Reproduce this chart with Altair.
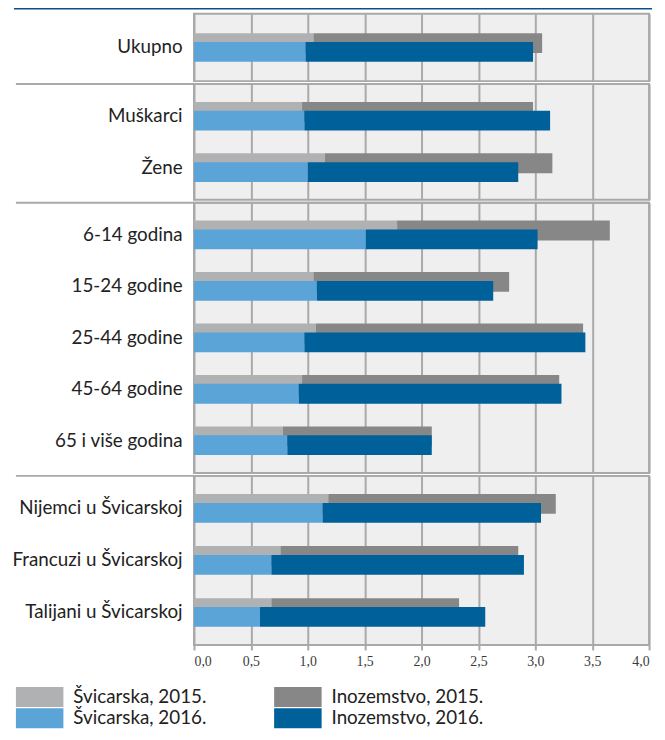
import altair as alt
import pandas as pd

categories = ["Ukupno", "Muškarci", "Žene", "6-14 godina", "15-24 godine",
              "25-44 godine", "45-64 godine", "65 i više godina",
              "Nijemci u Švicarskoj", "Francuzi u Švicarskoj", "Talijani u Švicarskoj"]
group_ids = [0, 1, 1, 2, 2, 2, 2, 2, 3, 3, 3]

ch_2015 = [1.05, 0.95, 1.15, 1.785, 1.05, 1.07, 0.95, 0.78, 1.18, 0.76, 0.68]
ino_2015 = [2.01, 2.03, 2.00, 1.87, 1.72, 2.35, 2.26, 1.31, 2.00, 2.09, 1.65]
ch_2016 = [0.98, 0.97, 1.00, 1.51, 1.08, 0.97, 0.92, 0.82, 1.13, 0.68, 0.58]
ino_2016 = [2.00, 2.16, 1.85, 1.51, 1.55, 2.47, 2.31, 1.27, 1.92, 2.22, 1.98]

series_names = ["Švicarska, 2015.", "Inozemstvo, 2015.", "Švicarska, 2016.", "Inozemstvo, 2016."]
series_colors = ["#b0b1b3", "#878787", "#5ba4d8", "#00619a"]
legend_col = [0, 1, 0, 1]
legend_row = [0, 0, 1, 1]
x_ticks = [0.0, 0.5, 1.0, 1.5, 2.0, 2.5, 3.0, 3.5, 4.0]

panel_heights = [68, 117, 273, 171]

rows = []
for i, c in enumerate(categories):
    for s_idx, (vals, year, part) in enumerate([(ch_2015, 2015, 0), (ino_2015, 2015, 1),
                                                 (ch_2016, 2016, 0), (ino_2016, 2016, 1)]):
        rows.append({"category": c, "group": group_ids[i], "series": series_names[s_idx],
                     "year": year, "part": part, "value": vals[i]})
df = pd.DataFrame(rows)
legend_df = pd.DataFrame({"series": series_names, "col": legend_col, "row": legend_row})

LABEL_FONT = "Lato"
GRID = "#a9a9a9"
TEXT = "#222222"

color = alt.Color("series:N", scale=alt.Scale(domain=series_names, range=series_colors),
                  legend=None)
xscale = alt.Scale(domain=[0, 4], nice=False)


def panel(gid, height, first=False, last=False):
    cats = [c for c, g in zip(categories, group_ids) if g == gid]
    d = df[df["group"] == gid]
    y = alt.Y("category:N", sort=cats,
              scale=alt.Scale(paddingOuter=0.125, paddingInner=0),
              axis=alt.Axis(title=None, domain=False, ticks=False, labelFont=LABEL_FONT,
                            labelFontSize=19, labelColor=TEXT, labelPadding=12,
                            labelLimit=300))
    if last:
        x_axis = alt.Axis(title=None, values=x_ticks, grid=True, gridColor=GRID, gridWidth=2,
                          domain=False, ticks=True, tickColor=GRID, tickWidth=2, tickSize=5,
                          labelFont="Liberation Sans Narrow", labelFontSize=14,
                          labelColor="#3a3a3a", labelPadding=5,
                          labelExpr="replace(format(datum.value, '.1f'), '.', ',')")
    else:
        x_axis = alt.Axis(title=None, values=x_ticks, grid=True, gridColor=GRID, gridWidth=2,
                          domain=False, ticks=False, labels=False)
    x = alt.X("value:Q", stack="zero", scale=xscale, axis=x_axis)
    base = alt.Chart(d)
    b15 = base.transform_filter("datum.year == 2015").mark_bar(height=20, yOffset=-4.5).encode(
        x=x, y=y, color=color, order=alt.Order("part:Q"))
    b16 = base.transform_filter("datum.year == 2016").mark_bar(height=20, yOffset=4.5).encode(
        x=x, y=y, color=color, order=alt.Order("part:Q"))
    layers = [b15, b16]
    one = alt.Data(values=[{"k": 1}])
    if first:
        layers.append(alt.Chart(one).mark_rule(color="#0b4f8a", strokeWidth=3).encode(
            x=alt.value(-182), x2=alt.value(463), y=alt.value(-6)))
    else:
        layers.append(alt.Chart(one).mark_rule(color=GRID, strokeWidth=2).encode(
            x=alt.value(-180), x2=alt.value(460), y=alt.value(0)))
    ch = alt.layer(*layers).properties(width=460, height=height)
    if last:
        lx = alt.X("col:O", scale=alt.Scale(type="point", domain=[0, 1], range=[-156, 105],
                                            padding=0), axis=None)
        ly = alt.Y("row:O", scale=alt.Scale(type="point", domain=[0, 1], range=[223.5, 245],
                                            padding=0), axis=None)
        lbase = alt.Chart(legend_df)
        sw = lbase.mark_point(shape="M-1,-0.4167H1V0.4167H-1Z", size=2304, filled=True,
                              opacity=1, strokeWidth=0).encode(x=lx, y=ly, color=color)
        tx = lbase.mark_text(align="left", baseline="middle", dx=34, font=LABEL_FONT,
                             fontSize=19, color=TEXT).encode(x=lx, y=ly, text="series:N")
        ch = alt.layer(ch, sw, tx).resolve_scale(x="independent", y="independent")
    return ch


chart = alt.vconcat(
    panel(0, panel_heights[0], first=True),
    panel(1, panel_heights[1]),
    panel(2, panel_heights[2]),
    panel(3, panel_heights[3], last=True),
    spacing=0,
).properties(
    padding={"left": 2, "top": -7, "right": 2, "bottom": 0}
).configure_view(
    fill="#efefef", stroke=GRID, strokeWidth=2
).configure_concat(spacing=0)

chart.save("out.html", embed_options={"renderer": "svg", "actions": False})
